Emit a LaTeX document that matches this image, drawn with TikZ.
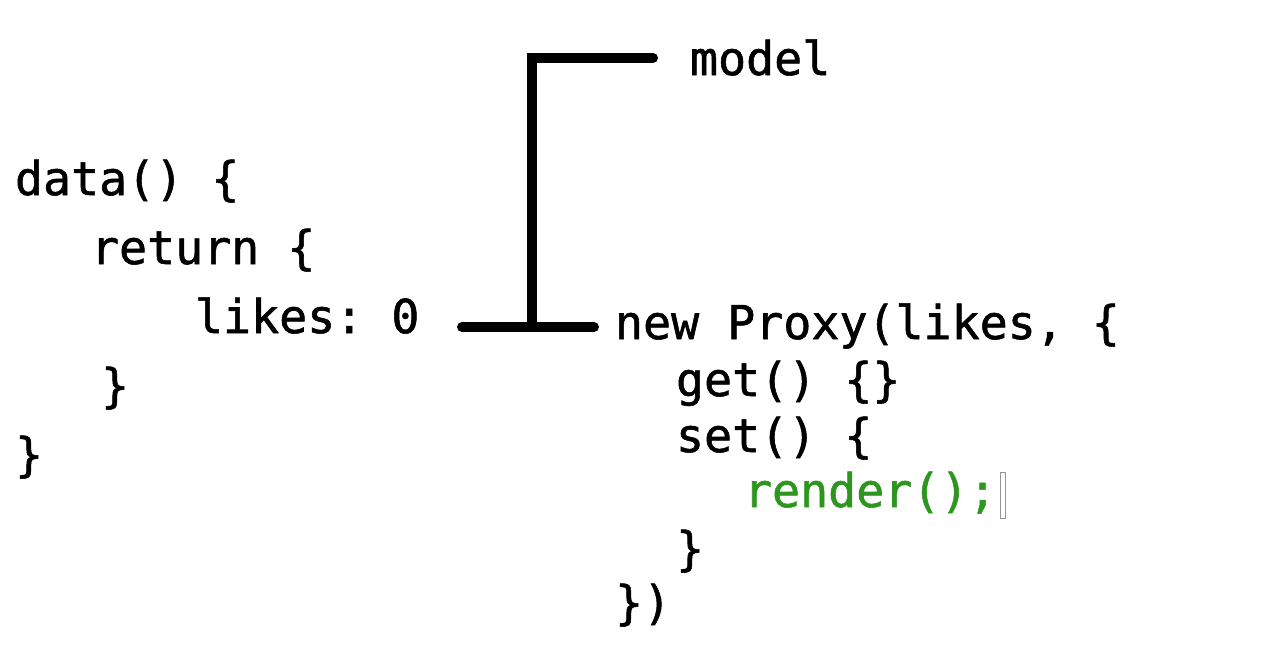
\documentclass[tikz,border=0pt]{standalone}
\usepackage{fontspec}
\setmonofont[FakeBold=1.2]{DejaVu Sans Mono}
\definecolor{codegreen}{RGB}{45,150,30}
\definecolor{cursorgray}{RGB}{150,150,150}
\tikzset{
  code/.style={anchor=base west, inner sep=0pt, outer sep=0pt,
    font=\ttfamily\fontsize{46.6}{50}\selectfont, text=black},
  greencode/.style={code, text=codegreen},
  link/.style={line width=10pt, line cap=round, line join=miter, draw=black}
}
\begin{document}
\begin{tikzpicture}[x=1pt,y=-1pt]
\useasboundingbox[fill=white] (0,0) rectangle (1280,656);
% left block
\node[code] (l1) at (15,195) {data() \{};
\node[code] (l2) at (91,264) {return \{};
\node[code] (likes) at (195,333) {likes: 0};
\node[code] (l4) at (101,402) {\}};
\node[code] (l5) at (15,471) {\}};
% right block
\node[code] (model) at (690,75) {model};
\node[code] (proxy) at (615,339) {new Proxy(likes, \{};
\node[code] (r2) at (676,396) {get() \{\}};
\node[code] (r3) at (676,452) {set() \{};
\node[greencode] (r4) at (744,507) {render();};
\node[code] (r5) at (676,565) {\}};
\node[code] (r6) at (615,619) {\})};
% cursor
\draw[cursorgray, line width=0.8pt, fill=white] (1000,472) rectangle (1005,518);
% connectors
\coordinate (a) at (462,327);
\coordinate (b) at (594,327);
\coordinate (jn) at (532,327);
\coordinate (c) at (653,58);
\draw[link] (a) -- (b);
\draw[link] (jn) |- (c);
\end{tikzpicture}
\end{document}
